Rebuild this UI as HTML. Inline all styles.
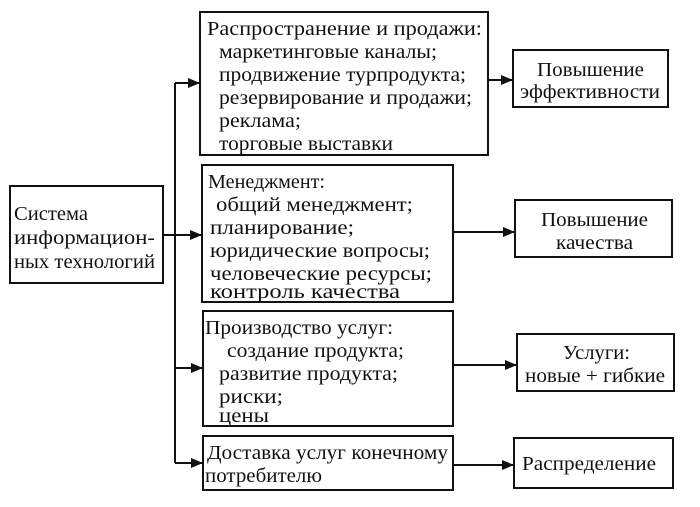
<!DOCTYPE html>
<html><head><meta charset="utf-8"><style>
body{margin:0;background:#fff;}
svg text{font-family:"Liberation Serif","DejaVu Serif",serif;font-size:20px;fill:#111;}
</style></head><body>
<svg width="700" height="502" viewBox="0 0 700 502" xmlns="http://www.w3.org/2000/svg">
<defs><marker id="a" markerWidth="12" markerHeight="10" refX="11" refY="5" orient="auto" markerUnits="userSpaceOnUse"><path d="M0,0 L12,5 L0,10 z" fill="#111"/></marker></defs>
<g fill="none" stroke="#111" stroke-width="2">
<rect x="10" y="186" width="153" height="97"/>
<rect x="200" y="12" width="288" height="143"/>
<rect x="202" y="165" width="251" height="137"/>
<rect x="203" y="311" width="250" height="115"/>
<rect x="203" y="436" width="250" height="54"/>
<rect x="513" y="50" width="155" height="57"/>
<rect x="515" y="200" width="157" height="57"/>
<rect x="517" y="334" width="157" height="57"/>
<rect x="514" y="438" width="159" height="50"/>
<path d="M175,83 V463"/>
<path d="M175,83 H199" marker-end="url(#a)"/>
<path d="M163,235 H201" marker-end="url(#a)"/>
<path d="M175,368 H202" marker-end="url(#a)"/>
<path d="M175,463 H202" marker-end="url(#a)"/>
<path d="M488,80 H512" marker-end="url(#a)"/>
<path d="M453,232 H514" marker-end="url(#a)"/>
<path d="M453,365 H516" marker-end="url(#a)"/>
<path d="M453,465 H513" marker-end="url(#a)"/>
</g>
<g lengthAdjust="spacingAndGlyphs">
<text x="14" y="220" textLength="74" lengthAdjust="spacingAndGlyphs">Система</text>
<text x="14" y="244" textLength="141" lengthAdjust="spacingAndGlyphs">информацион-</text>
<text x="14" y="268" textLength="141" lengthAdjust="spacingAndGlyphs">ных технологий</text>
<text x="207" y="35" textLength="275" lengthAdjust="spacingAndGlyphs">Распространение и продажи:</text>
<text x="219" y="58" textLength="218" lengthAdjust="spacingAndGlyphs">маркетинговые каналы;</text>
<text x="219" y="81" textLength="247" lengthAdjust="spacingAndGlyphs">продвижение турпродукта;</text>
<text x="219" y="104" textLength="253" lengthAdjust="spacingAndGlyphs">резервирование и продажи;</text>
<text x="219" y="127" textLength="82" lengthAdjust="spacingAndGlyphs">реклама;</text>
<text x="219" y="150" textLength="174" lengthAdjust="spacingAndGlyphs">торговые выставки</text>
<text x="208" y="188" textLength="117" lengthAdjust="spacingAndGlyphs">Менеджмент:</text>
<text x="216" y="211" textLength="197" lengthAdjust="spacingAndGlyphs">общий менеджмент;</text>
<text x="210" y="234" textLength="144" lengthAdjust="spacingAndGlyphs">планирование;</text>
<text x="210" y="257" textLength="220" lengthAdjust="spacingAndGlyphs">юридические вопросы;</text>
<text x="210" y="280" textLength="222" lengthAdjust="spacingAndGlyphs">человеческие ресурсы;</text>
<text x="210" y="298" textLength="190" lengthAdjust="spacingAndGlyphs">контроль качества</text>
<text x="205" y="334" textLength="188" lengthAdjust="spacingAndGlyphs">Производство услуг:</text>
<text x="227" y="357" textLength="177" lengthAdjust="spacingAndGlyphs">создание продукта;</text>
<text x="219" y="380" textLength="179" lengthAdjust="spacingAndGlyphs">развитие продукта;</text>
<text x="219" y="403" textLength="64" lengthAdjust="spacingAndGlyphs">риски;</text>
<text x="219" y="422" textLength="50" lengthAdjust="spacingAndGlyphs">цены</text>
<text x="207" y="459" textLength="241" lengthAdjust="spacingAndGlyphs">Доставка услуг конечному</text>
<text x="205" y="482" textLength="117" lengthAdjust="spacingAndGlyphs">потребителю</text>
<text x="537" y="76" textLength="107" lengthAdjust="spacingAndGlyphs">Повышение</text>
<text x="520" y="98" textLength="140" lengthAdjust="spacingAndGlyphs">эффективности</text>
<text x="541" y="226" textLength="107" lengthAdjust="spacingAndGlyphs">Повышение</text>
<text x="556" y="249" textLength="77" lengthAdjust="spacingAndGlyphs">качества</text>
<text x="563" y="359" textLength="67" lengthAdjust="spacingAndGlyphs">Услуги:</text>
<text x="525" y="382" textLength="140" lengthAdjust="spacingAndGlyphs">новые + гибкие</text>
<text x="522" y="470" textLength="134" lengthAdjust="spacingAndGlyphs">Распределение</text>
</g>
</svg>
</body></html>
